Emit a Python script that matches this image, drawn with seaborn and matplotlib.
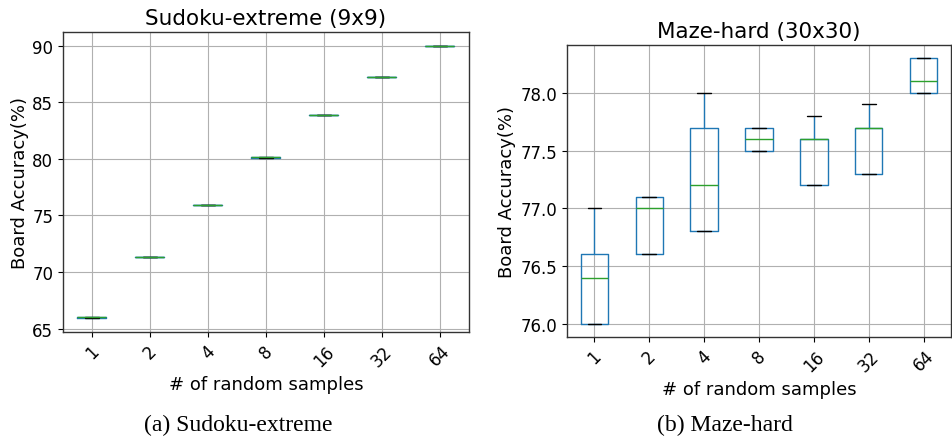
import matplotlib
matplotlib.use("Agg")
import matplotlib.pyplot as plt
import seaborn as sns
import pandas as pd

samples = ["1", "2", "4", "8", "16", "32", "64"]

sudoku_runs = [
    [65.9, 65.9, 66.0, 66.0, 66.0],
    [71.3, 71.3, 71.3, 71.3, 71.3],
    [75.9, 75.9, 75.9, 75.9, 75.9],
    [80.1, 80.1, 80.2, 80.2, 80.2],
    [83.9, 83.9, 83.9, 83.9, 83.9],
    [87.2, 87.2, 87.2, 87.2, 87.2],
    [90.0, 90.0, 90.0, 90.0, 90.0],
]

maze_runs = [
    [76.0, 76.0, 76.4, 76.6, 77.0],
    [76.6, 76.6, 77.0, 77.1, 77.1],
    [76.8, 76.8, 77.2, 77.7, 78.0],
    [77.5, 77.5, 77.6, 77.7, 77.7],
    [77.2, 77.2, 77.6, 77.6, 77.8],
    [77.3, 77.3, 77.7, 77.7, 77.9],
    [78.0, 78.0, 78.1, 78.3, 78.3],
]

titles = ["Sudoku-extreme (9x9)", "Maze-hard (30x30)"]
captions = ["(a) Sudoku-extreme", "(b) Maze-hard"]
xlabel = "# of random samples"
ylabel = "Board Accuracy(%)"


def long_frame(runs):
    rows = []
    for k, vals in zip(samples, runs):
        for v in vals:
            rows.append({"k": k, "acc": v})
    return pd.DataFrame(rows)


sns.set_style("white")
plt.rcParams["font.family"] = ["DejaVu Sans"]
plt.rcParams["text.color"] = "black"
plt.rcParams["axes.labelcolor"] = "black"
plt.rcParams["xtick.color"] = "black"
plt.rcParams["ytick.color"] = "black"

fig = plt.figure(figsize=(9.53, 4.39), dpi=100)
# left axes: x 63..469, y 33..333 ; right axes: x 567..951, y 46..338
ax_l = fig.add_axes([63 / 953, (439 - 333) / 439, 406 / 953, 300 / 439])
ax_r = fig.add_axes([567 / 953, (439 - 338) / 439, 384 / 953, 292 / 439])
caption_x = [238 / 953, 725 / 953]
ylabel_pads = [2, 3]

for ax, runs, title, cap, cx, lp in zip([ax_l, ax_r], [sudoku_runs, maze_runs],
                                        titles, captions, caption_x, ylabel_pads):
    df = long_frame(runs)
    sns.boxplot(
        data=df, x="k", y="acc", order=samples, ax=ax,
        width=0.5, fill=False, color="#1f77b4", linewidth=1.0,
        whis=1.5, showfliers=False,
        boxprops={"color": "#1f77b4"},
        whiskerprops={"color": "#1f77b4"},
        capprops={"color": "black"},
        medianprops={"color": "#2ca02c"},
    )
    ax.set_title(title, fontsize=15.5)
    ax.set_xlabel(xlabel, fontsize=13, labelpad=4)
    ax.set_ylabel(ylabel, fontsize=13, labelpad=lp)
    ax.tick_params(axis="both", labelsize=12, length=3.5, direction="out",
                   left=True, bottom=True)
    for lab in ax.get_xticklabels():
        lab.set_rotation(45)
    ax.grid(True, color="#b0b0b0", linewidth=0.8)
    ax.set_axisbelow(True)
    for s in ax.spines.values():
        s.set_color("#333333")
        s.set_linewidth(1.0)
    ax.margins(y=0.05)
    ax.set_xlim(-0.5, 6.5)
    fig.text(cx, (439 - 431) / 439, cap, ha="center",
             va="baseline", fontsize=17, family=["Liberation Serif"])

ax_r.yaxis.set_major_formatter(matplotlib.ticker.FormatStrFormatter("%.1f"))

fig.savefig("out.png", dpi=100)
